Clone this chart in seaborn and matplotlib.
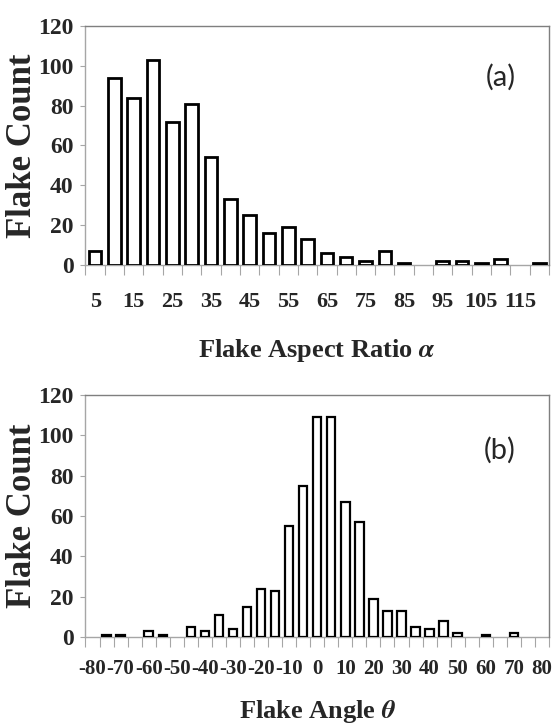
import numpy as np
import pandas as pd
import matplotlib
matplotlib.use('Agg')
from matplotlib import pyplot as plt
import seaborn as sns

# flake aspect ratio histogram (a)
aspect_bins = [5, 10, 15, 20, 25, 30, 35, 40, 45, 50, 55, 60,
               65, 70, 75, 80, 85, 90, 95, 100, 105, 110, 115, 120]
aspect_counts = [7, 94, 84, 103, 72, 81, 54, 33, 25, 16, 19, 13,
                 6, 4, 2, 7, 1, 0, 2, 2, 1, 3, 0, 1]
aspect_ticklabels = ['5', '15', '25', '35', '45', '55', '65', '75', '85', '95', '105', '115']

# flake angle histogram (b)
angle_bins = [-80, -75, -70, -65, -60, -55, -50, -45, -40, -35, -30, -25, -20, -15, -10, -5,
              0, 5, 10, 15, 20, 25, 30, 35, 40, 45, 50, 55, 60, 65, 70, 75, 80]
angle_counts = [0, 1, 1, 0, 3, 1, 0, 5, 3, 11, 4, 15, 24, 23, 55, 75,
                109, 109, 67, 57, 19, 13, 13, 5, 4, 8, 2, 0, 1, 0, 2, 0, 0]
angle_ticklabels = ['-80', '-70', '-60', '-50', '-40', '-30', '-20', '-10', '0',
                    '10', '20', '30', '40', '50', '60', '70', '80']

yticks = [0, 20, 40, 60, 80, 100, 120]

sns.set_style('white')
plt.rcParams['font.family'] = ['Liberation Serif', 'DejaVu Serif']
plt.rcParams['font.weight'] = 'bold'
plt.rcParams['axes.labelweight'] = 'bold'
plt.rcParams['mathtext.fontset'] = 'stix'


def draw_panel(ax, bins, counts, ticklabels, xlabel, tag, tag_xy, bar_w, lw, lab_pad, xlab_y, xsize):
    df = pd.DataFrame({'bin': [str(b) for b in bins], 'count': counts})
    sns.barplot(data=df, x='bin', y='count', order=list(df['bin']), color='white',
                saturation=1, edgecolor='black', linewidth=lw, width=bar_w, ax=ax)
    # empty bins show nothing
    for p in ax.patches:
        if p.get_height() == 0:
            p.set_linewidth(0)
    n = len(bins)
    ax.set_xlim(-0.5, n - 0.5)
    ax.set_ylim(0, 120)
    ax.set_yticks(yticks)
    ax.set_yticklabels([str(v) for v in yticks])
    ax.set_xticks(np.arange(n + 1) - 0.5)
    ax.set_xticklabels([])
    ax.set_xticks(np.arange(0, n, 2), minor=True)
    ax.set_xticklabels(ticklabels, minor=True)
    ax.tick_params(axis='x', which='major', length=7, width=0.8, color='#a6a6a6',
                   direction='out', bottom=True)
    ax.tick_params(axis='x', which='minor', length=0, pad=lab_pad, labelsize=xsize, bottom=True)
    ax.tick_params(axis='y', length=3.6, width=0.8, color='#a6a6a6', direction='out',
                   pad=5, labelsize=17, left=True)
    for side in ['top', 'right']:
        ax.spines[side].set_color('#7f7f7f')
        ax.spines[side].set_linewidth(1.0)
    for side in ['left', 'bottom']:
        ax.spines[side].set_color('#a6a6a6')
        ax.spines[side].set_linewidth(1.0)
    ax.spines['bottom'].set_zorder(0.5)
    ax.set_xlabel(xlabel, fontsize=19)
    ax.xaxis.set_label_coords(0.5, xlab_y)
    ax.set_ylabel('Flake Count', fontsize=25)
    ax.yaxis.set_label_coords(-0.10, 0.5)
    ax.text(tag_xy[0], tag_xy[1], tag, transform=ax.transAxes, ha='center', va='center',
            family='Lato', weight='normal', fontsize=21)


fig = plt.figure(figsize=(5.54, 7.27), dpi=100)
ax1 = fig.add_axes([0.1543, 0.6351, 0.8366, 0.3296])
ax2 = fig.add_axes([0.1543, 0.1238, 0.8366, 0.3329])

draw_panel(ax1, aspect_bins, aspect_counts, aspect_ticklabels, 'Flake Aspect Ratio $\\alpha$',
           '(a)', (0.896, 0.786), 0.65, 2.0, 19.5, -0.30, 16)
draw_panel(ax2, angle_bins, angle_counts, angle_ticklabels, 'Flake Angle $\\theta$',
           '(b)', (0.894, 0.773), 0.6, 1.6, 16, -0.25, 15)

fig.savefig('out.png', dpi=100)
